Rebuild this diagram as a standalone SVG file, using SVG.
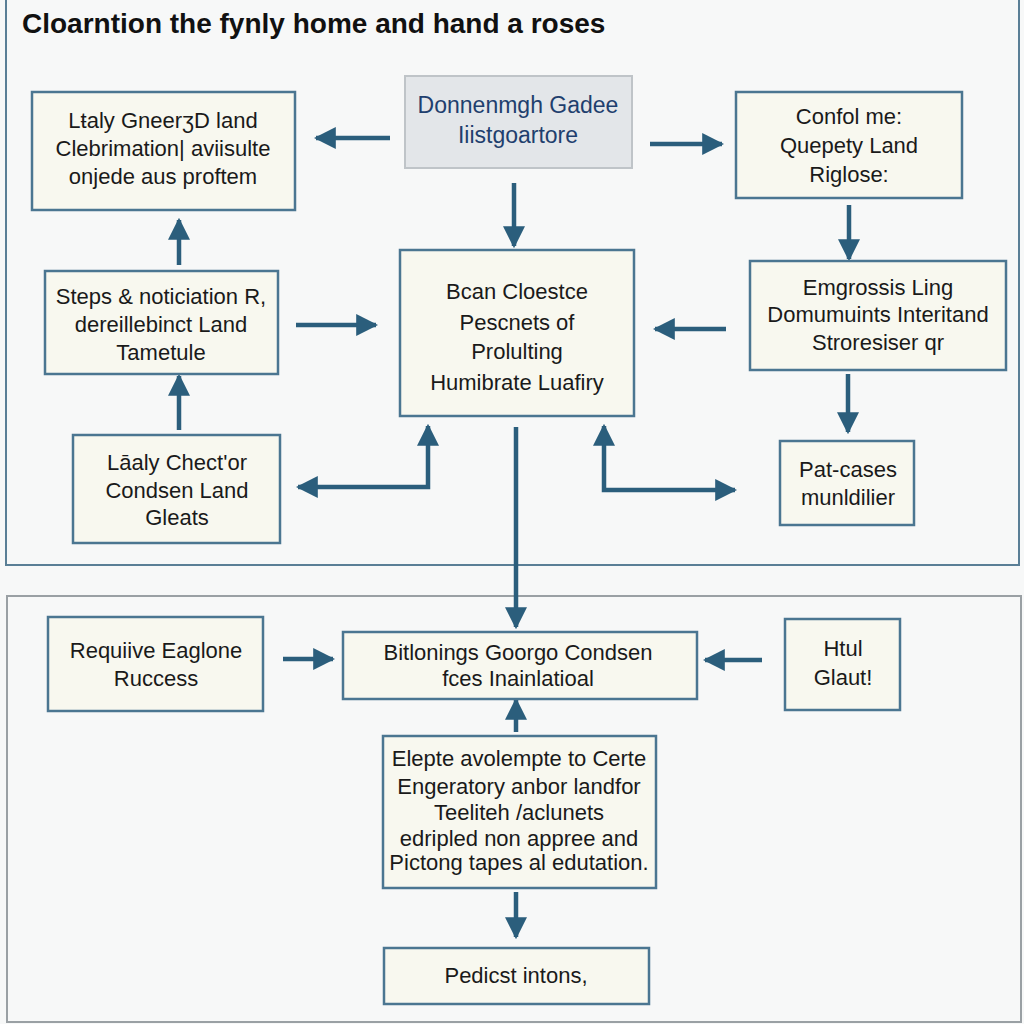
<svg xmlns="http://www.w3.org/2000/svg" width="1024" height="1024" viewBox="0 0 1024 1024">
<defs>
<style>
.bg{fill:#f7f8f8}
.panel{fill:none;stroke:#5a7f96;stroke-width:2}
.panel2{fill:none;stroke:#9aa0a4;stroke-width:2}
.node{fill:#f8f8ef;stroke:#4b7691;stroke-width:2.5}
.nodeg{fill:#e3e6e9;stroke:#bfc4c8;stroke-width:2}
.t{font-family:"Liberation Sans",Arial,sans-serif;font-size:22px;fill:#1a1a1a;text-anchor:middle}
.tb{font-family:"Liberation Sans",Arial,sans-serif;font-size:23px;fill:#1f3f6e;text-anchor:middle}
.title{font-family:"Liberation Sans",Arial,sans-serif;font-size:28px;font-weight:bold;fill:#111}
.c{fill:none;stroke:#2b5e7c;stroke-width:4.5}
</style>
<marker id="ah" viewBox="0 0 10 10" refX="9" refY="5" markerWidth="22" markerHeight="22" markerUnits="userSpaceOnUse" orient="auto-start-reverse">
<path d="M0,0 L10,5 L0,10 z" fill="#2b5e7c"/>
</marker>
</defs>
<rect class="bg" x="0" y="0" width="1024" height="1024"/>
<path class="panel" d="M6,0 V565 H1019 V0"/>
<rect class="panel2" x="7" y="596" width="1014" height="426"/>
<text class="title" x="22" y="33">Cloarntion the fynly home and hand a roses</text>

<g id="connectors">
<path class="c" d="M390,138 H316" marker-end="url(#ah)"/>
<path class="c" d="M650,144 H722" marker-end="url(#ah)"/>
<path class="c" d="M514,183 V246" marker-end="url(#ah)"/>
<path class="c" d="M849,205 V259" marker-end="url(#ah)"/>
<path class="c" d="M179,265 V220" marker-end="url(#ah)"/>
<path class="c" d="M179,430 V376" marker-end="url(#ah)"/>
<path class="c" d="M296,325 H376" marker-end="url(#ah)"/>
<path class="c" d="M726,329 H655" marker-end="url(#ah)"/>
<path class="c" d="M848,374 V432" marker-end="url(#ah)"/>
<path class="c" d="M298,487 H428 V426" marker-start="url(#ah)" marker-end="url(#ah)"/>
<path class="c" d="M604,426 V490 H735" marker-start="url(#ah)" marker-end="url(#ah)"/>
<path class="c" d="M516,427 V627" marker-end="url(#ah)"/>
<path class="c" d="M283,659 H333" marker-end="url(#ah)"/>
<path class="c" d="M762,660 H705" marker-end="url(#ah)"/>
<path class="c" d="M516,732 V700" marker-end="url(#ah)"/>
<path class="c" d="M516,892 V937" marker-end="url(#ah)"/>
</g>

<g id="n1"><rect class="node" x="32" y="92" width="263" height="118"/>
<text class="t" x="163" y="128">Lŧaly GneerʒD land</text>
<text class="t" x="163" y="156">Clebrimation| aviisulte</text>
<text class="t" x="163" y="184">onjede aus proftem</text></g>

<g id="n2"><rect class="nodeg" x="405" y="76" width="227" height="92"/>
<text class="tb" x="518" y="113">Donnenmgh Gadee</text>
<text class="tb" x="518" y="143">Iiistgoartore</text></g>

<g id="n3"><rect class="node" x="736" y="92" width="226" height="106"/>
<text class="t" x="849" y="124">Confol me:</text>
<text class="t" x="849" y="153">Quepety Land</text>
<text class="t" x="849" y="182">Riglose:</text></g>

<g id="n4"><rect class="node" x="45" y="271" width="233" height="103"/>
<text class="t" x="161" y="304">Steps &amp; noticiation R,</text>
<text class="t" x="161" y="332">dereillebinct Land</text>
<text class="t" x="161" y="360">Tametule</text></g>

<g id="n5"><rect class="node" x="400" y="250" width="234" height="166"/>
<text class="t" x="517" y="299">Bcan Cloestce</text>
<text class="t" x="517" y="330">Pescnets of</text>
<text class="t" x="517" y="359">Prolulting</text>
<text class="t" x="517" y="390">Humibrate Luafiry</text></g>

<g id="n6"><rect class="node" x="750" y="261" width="256" height="109"/>
<text class="t" x="878" y="295">Emgrossis Ling</text>
<text class="t" x="878" y="322">Domumuints Interitand</text>
<text class="t" x="878" y="350">Stroresiser qr</text></g>

<g id="n7"><rect class="node" x="73" y="435" width="207" height="108"/>
<text class="t" x="177" y="470">Lāaly Chect'or</text>
<text class="t" x="177" y="498">Condsen Land</text>
<text class="t" x="177" y="525">Gleats</text></g>

<g id="n8"><rect class="node" x="780" y="441" width="134" height="84"/>
<text class="t" x="848" y="477">Pat-cases</text>
<text class="t" x="848" y="505">munldilier</text></g>

<g id="n9"><rect class="node" x="48" y="617" width="215" height="94"/>
<text class="t" x="156" y="658">Requiive Eaglone</text>
<text class="t" x="156" y="686">Ruccess</text></g>

<g id="n10"><rect class="node" x="343" y="632" width="354" height="67"/>
<text class="t" x="518" y="660">Bitlonings Goorgo Condsen</text>
<text class="t" x="518" y="686">fces Inainlatioal</text></g>

<g id="n11"><rect class="node" x="785" y="619" width="115" height="91"/>
<text class="t" x="843" y="656">Htul</text>
<text class="t" x="843" y="685">Glaut!</text></g>

<g id="n12"><rect class="node" x="383" y="736" width="273" height="152"/>
<text class="t" x="519" y="766">Elepte avolempte to Certe</text>
<text class="t" x="519" y="794">Engeratory anbor landfor</text>
<text class="t" x="519" y="820">Teeliteh /aclunets</text>
<text class="t" x="519" y="846">edripled non appree and</text>
<text class="t" x="519" y="870">Pictong tapes al edutation.</text></g>

<g id="n13"><rect class="node" x="384" y="948" width="265" height="56"/>
<text class="t" x="516" y="983">Pedicst intons,</text></g>
</svg>
